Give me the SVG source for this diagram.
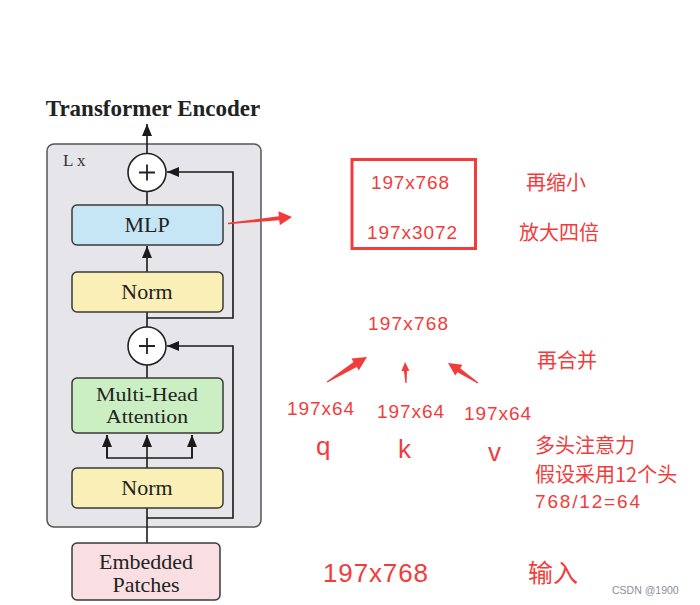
<svg xmlns="http://www.w3.org/2000/svg" width="700" height="605" viewBox="0 0 700 605">
<defs>
<marker id="ah" viewBox="0 0 12 10" refX="12" refY="5" markerWidth="12" markerHeight="10" markerUnits="userSpaceOnUse" orient="auto">
<path d="M0,0 L12,5 L0,10 z" fill="#1a1a1a"/>
</marker>
<style>
.box{stroke:#3a3a3a;stroke-width:1.5}
.lbl{font-family:"Liberation Serif","Times New Roman",serif;font-size:22px;fill:#222;text-anchor:middle}
.ln{fill:none;stroke:#1a1a1a;stroke-width:1.6}
.red{fill:#f23c3c;font-family:"Liberation Sans","Noto Sans CJK SC",sans-serif;font-size:19px}
.cjk{fill:#f23c3c;font-family:"Noto Sans CJK SC","Liberation Sans",sans-serif;font-size:20px}
.big{font-size:26px}
.ra{fill:#f23c3c}
</style>
</defs>
<rect width="700" height="605" fill="#ffffff"/>
<text x="153" y="116" font-family="Liberation Serif,'Times New Roman',serif" font-weight="bold" font-size="23" fill="#222" text-anchor="middle">Transformer Encoder</text>
<g id="encoder-block">
<rect x="47" y="144" width="214" height="383" rx="7" fill="#e6e5e9" stroke="#555" stroke-width="1.5"/>
<text x="63" y="166" font-family="Liberation Serif,serif" font-size="17" fill="#333">L x</text>
</g>
<g id="connectors">
<line class="ln" x1="147" y1="153" x2="147" y2="124" marker-end="url(#ah)"/>
<line class="ln" x1="147" y1="205" x2="147" y2="192"/>
<line class="ln" x1="147" y1="272" x2="147" y2="246" marker-end="url(#ah)"/>
<line class="ln" x1="147" y1="327" x2="147" y2="312"/>
<polyline class="ln" points="147,318 233,318 233,172 167,172" marker-end="url(#ah)"/>
<line class="ln" x1="147" y1="378" x2="147" y2="365"/>
<polyline class="ln" points="147,518 233,518 233,346 167,346" marker-end="url(#ah)"/>
<line class="ln" x1="147" y1="543" x2="147" y2="458"/>
<polyline class="ln" points="107,435 107,458 192,458 192,435"/>
<line class="ln" x1="107" y1="458" x2="107" y2="435" marker-end="url(#ah)"/>
<line class="ln" x1="147" y1="458" x2="147" y2="435" marker-end="url(#ah)"/>
<line class="ln" x1="192" y1="458" x2="192" y2="435" marker-end="url(#ah)"/>
<polygon class="ra" points="228.08,224.3 279.27,220.3 279.78,225.28 292,217 278.36,211.34 278.87,216.32 227.92,222.7"/>
<polygon class="ra" points="327.27,382.42 356.72,366.96 358.84,370.36 367,357 351.42,358.48 353.54,361.88 326.73,381.58"/>
<polygon class="ra" points="406.6,382.97 406.93,370.92 409.43,370.8 405,362 401.43,371.18 403.93,371.06 405.4,383.03"/>
<polygon class="ra" points="478.28,382.58 460.21,368.13 462.43,364.8 448,363 455.21,375.62 457.43,372.29 477.72,383.42"/>
</g>
<g id="add-top">
<circle cx="147" cy="172.5" r="19" fill="#fff" stroke="#222" stroke-width="1.6"/>
<path d="M139,172.5 H155 M147,164.5 V180.5" stroke="#222" stroke-width="1.8"/>
</g>
<g id="mlp">
<rect class="box" x="72" y="205" width="151" height="40" rx="5" fill="#c6e6f6"/>
<text class="lbl" x="147" y="232">MLP</text>
</g>
<g id="norm1">
<rect class="box" x="72" y="272" width="151" height="40" rx="5" fill="#faefb6"/>
<text class="lbl" x="147" y="299">Norm</text>
</g>
<g id="add-bottom">
<circle cx="147" cy="346" r="19" fill="#fff" stroke="#222" stroke-width="1.6"/>
<path d="M139,346 H155 M147,338 V354" stroke="#222" stroke-width="1.8"/>
</g>
<g id="mha">
<rect class="box" x="72" y="378" width="151" height="55" rx="5" fill="#cbefc2"/>
<text class="lbl" x="147" y="401" style="font-size:19.5px" textLength="102" lengthAdjust="spacingAndGlyphs">Multi-Head</text>
<text class="lbl" x="147" y="423" style="font-size:19.5px" textLength="82" lengthAdjust="spacingAndGlyphs">Attention</text>
</g>
<g id="norm2">
<rect class="box" x="72" y="468" width="151" height="40" rx="5" fill="#faefb6"/>
<text class="lbl" x="147" y="495">Norm</text>
</g>
<g id="embedded">
<rect class="box" x="72" y="543" width="148" height="57" rx="5" fill="#f9dfe2"/>
<text class="lbl" x="146" y="569">Embedded</text>
<text class="lbl" x="146" y="592">Patches</text>
</g>
<g id="mlp-dims">
<rect x="352" y="159.5" width="123.5" height="89" fill="none" stroke="#f23c3c" stroke-width="3"/>
<text class="red" x="371" y="189" textLength="78" lengthAdjust="spacing">197x768</text>
<text class="red" x="367" y="239" textLength="90" lengthAdjust="spacing">197x3072</text>
<text class="cjk" x="526" y="190">再缩小</text>
<text class="cjk" x="519" y="240">放大四倍</text>
</g>
<g id="attention-notes">
<text class="red" x="368" y="330" textLength="80" lengthAdjust="spacing">197x768</text>
<text class="cjk" x="537" y="368">再合并</text>
<text class="red" x="287" y="415" textLength="67" lengthAdjust="spacing">197x64</text>
<text class="red" x="377" y="418" textLength="67" lengthAdjust="spacing">197x64</text>
<text class="red" x="464" y="420" textLength="67" lengthAdjust="spacing">197x64</text>
<text class="red big" x="316" y="455">q</text>
<text class="red big" x="398" y="458">k</text>
<text class="red big" x="488" y="461">v</text>
<text class="cjk" x="535" y="453">多头注意力</text>
<text class="cjk" x="535" y="482">假设采用12个头</text>
<text class="red" x="535" y="508" textLength="105" lengthAdjust="spacing">768/12=64</text>
</g>
<g id="input-notes">
<text class="red big" x="323" y="582" textLength="105" lengthAdjust="spacing">197x768</text>
<text class="cjk" x="528" y="582" style="font-size:25px">输入</text>
<text x="612" y="594" font-family="Liberation Sans,sans-serif" font-size="10.5" fill="#8a8f99">CSDN @1900</text>
</g>
</svg>
